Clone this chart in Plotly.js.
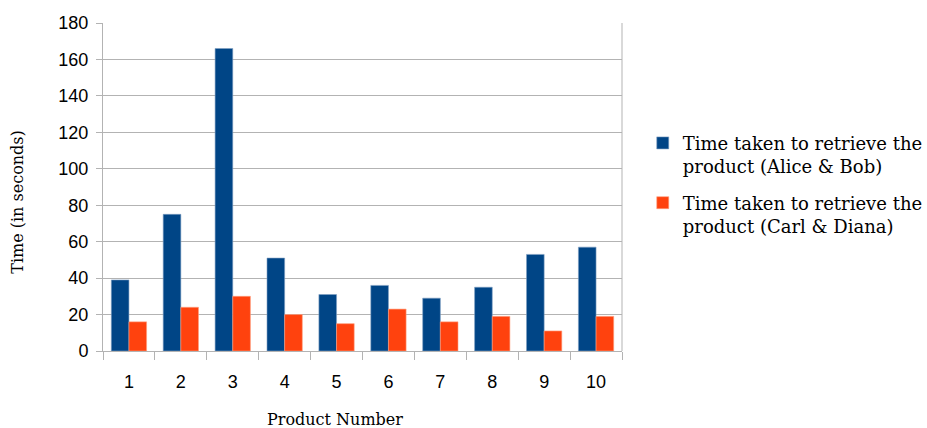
<!DOCTYPE html>
<html>
<head>
<meta charset="utf-8">
<script src="https://cdn.plot.ly/plotly-3.0.1.min.js"></script>
<style>
  html, body { margin: 0; padding: 0; background: #fff; }
  #chart { width: 927px; height: 428px; }
</style>
</head>
<body>
<div id="chart"></div>
<script>
// Product numbers on the x axis
const products = ['1', '2', '3', '4', '5', '6', '7', '8', '9', '10'];
// Retrieval time in seconds for each team
const aliceBob = [39, 75, 166, 51, 31, 36, 29, 35, 53, 57];
const carlDiana = [16, 24, 30, 20, 15, 23, 16, 19, 11, 19];
const seriesNames = [
  'Time taken to retrieve the<br>product (Alice &amp; Bob)',
  'Time taken to retrieve the<br>product (Carl &amp; Diana)'
];
const yTicks = [0, 20, 40, 60, 80, 100, 120, 140, 160, 180];

const serif = 'DejaVu Serif, serif';
const sans = 'Liberation Sans, Arial, sans-serif';

const traces = [
  {
    type: 'bar', x: products, y: aliceBob, name: seriesNames[0], legendgroup: 'ab',
    marker: { color: '#004586', line: { color: '#7f9fc2', width: 0.6 } }
  },
  {
    type: 'bar', x: products, y: carlDiana, name: seriesNames[1], legendgroup: 'cd',
    marker: { color: '#ff420e', line: { color: '#ffa080', width: 0.6 } }
  }
];

const layout = {
  width: 927, height: 428,
  margin: { l: 103, r: 305, t: 23, b: 77, autoexpand: false },
  paper_bgcolor: '#fff', plot_bgcolor: '#fff',
  barmode: 'group', bargap: 0.32, bargroupgap: 0,
  showlegend: true,
  legend: {
    x: 1.04, y: 0.69, xanchor: 'left', yanchor: 'top',
    font: { family: serif, size: 18, color: '#000' },
    valign: 'top', tracegroupgap: 10,
    itemwidth: 30
  },
  xaxis: {
    type: 'category',
    tickson: 'boundaries', ticks: 'outside', ticklen: 8, tickcolor: '#b3b3b3',
    showgrid: false, showline: true, linecolor: '#b3b3b3', linewidth: 1,
    tickfont: { family: sans, size: 18, color: '#000' },
    ticklabelstandoff: 14,
    zeroline: false, mirror: false
  },
  yaxis: {
    range: [0, 180], tickvals: yTicks, ticktext: yTicks.map(String),
    ticks: 'outside', ticklen: 6, tickcolor: '#b3b3b3',
    showgrid: true, gridcolor: '#b3b3b3', gridwidth: 1,
    showline: true, linecolor: '#b3b3b3', linewidth: 1,
    zeroline: false,
    tickfont: { family: sans, size: 18, color: '#000' },
    ticklabelstandoff: 4
  },
  annotations: [
    {
      text: 'Product Number', xref: 'paper', yref: 'paper',
      x: 0.447, y: -0.2, xanchor: 'center', yanchor: 'middle', yshift: -3,
      showarrow: false, font: { family: serif, size: 16, color: '#000' }
    },
    {
      text: 'Time (in seconds)', xref: 'paper', yref: 'paper',
      x: 0, xshift: -85, y: 0.455, textangle: -90,
      xanchor: 'center', yanchor: 'middle',
      showarrow: false, font: { family: serif, size: 16, color: '#000' }
    }
  ],
  shapes: [
    // right border of the plot frame
    { type: 'line', xref: 'paper', yref: 'paper', x0: 1, x1: 1, y0: 0, y1: 1,
      line: { color: '#b3b3b3', width: 1 } }
  ]
};

Plotly.newPlot('chart', traces, layout, { displayModeBar: false, staticPlot: true });
</script>
</body>
</html>
